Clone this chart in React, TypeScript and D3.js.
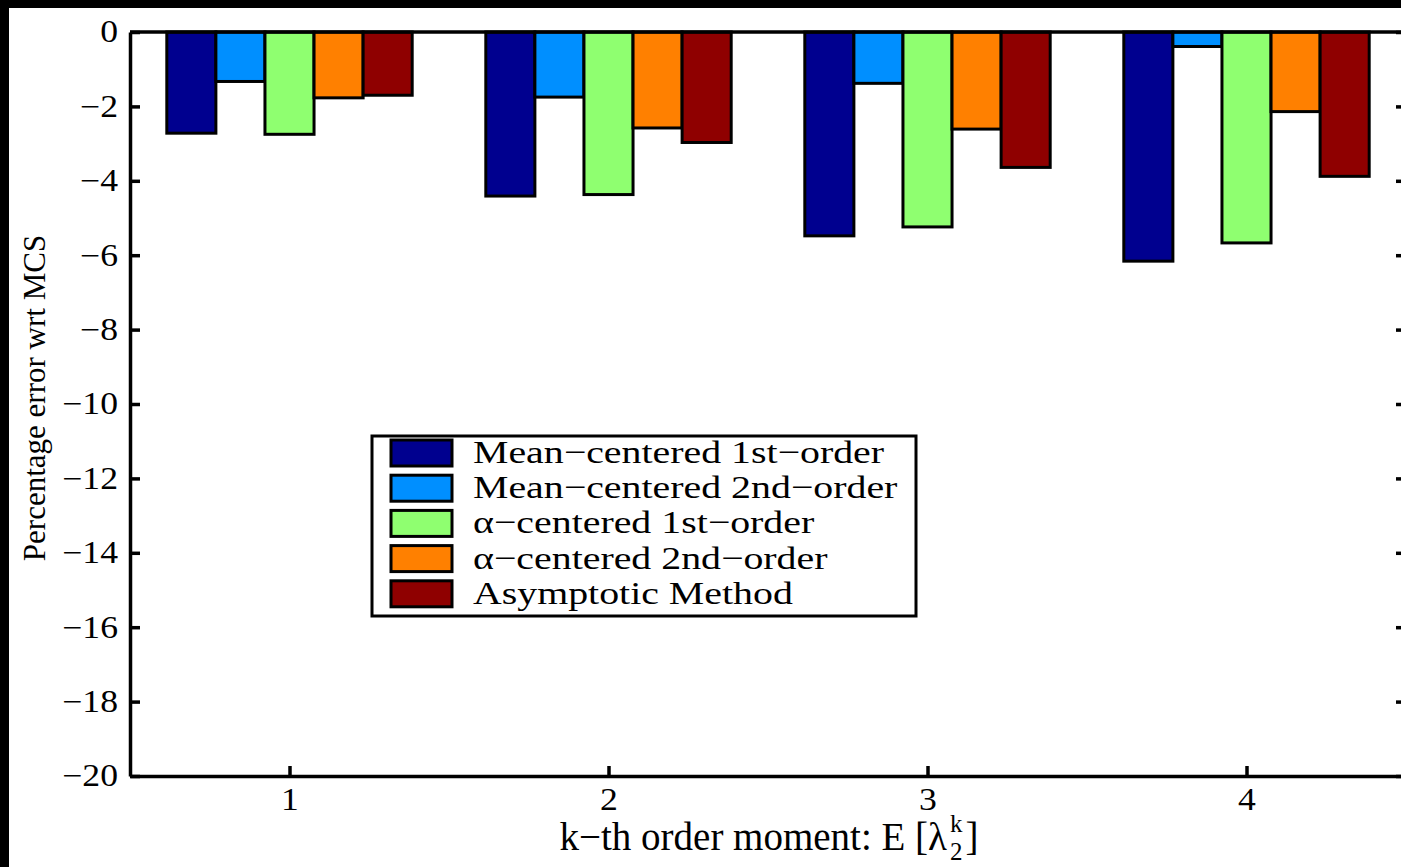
import { useEffect, useRef } from 'react';
import * as d3 from 'd3';

// data (percentage error wrt MCS)
const moments = [1, 2, 3, 4];
const seriesNames = [
  "Mean−centered 1st−order",
  "Mean−centered 2nd−order",
  "α−centered 1st−order",
  "α−centered 2nd−order",
  "Asymptotic Method"
];
const meanCentered1st = [-2.72, -4.41, -5.48, -6.16];
const meanCentered2nd = [-1.33, -1.75, -1.38, -0.39];
const alphaCentered1st = [-2.75, -4.37, -5.24, -5.67];
const alphaCentered2nd = [-1.77, -2.58, -2.61, -2.14];
const asymptotic = [-1.70, -2.97, -3.64, -3.88];
const yTicks = [0, -2, -4, -6, -8, -10, -12, -14, -16, -18, -20];
const colors = ["#00008F", "#008FFF", "#8FFF70", "#FF8000", "#8F0000"];

const FONT = "'Liberation Serif', 'Times New Roman', serif";

// the original figure was stretched sideways, so the glyphs are wider than tall
function stretchX(sel: any, k: number) {
  sel.each(function (this: any) {
    const len = this.getComputedTextLength();
    d3.select(this).attr("textLength", len * k).attr("lengthAdjust", "spacingAndGlyphs");
  });
}

const App = () => {
  const svgRef = useRef<SVGSVGElement>(null);

  useEffect(() => {
    const svg = d3.select(svgRef.current);
    svg.selectAll("*").remove();

    const width = 1401;
    const height = 867;

    // black frame on top/left, then white canvas
    svg.append("rect").attr("width", width).attr("height", height).attr("fill", "#000");
    svg.append("rect").attr("x", 9).attr("y", 8).attr("width", width - 9).attr("height", height - 8).attr("fill", "#fff");

    const x = d3.scaleLinear().domain([0.5, 4.5]).range([130, 1406]);
    const y = d3.scaleLinear().domain([-20, 0]).range([776, 32]);

    const series = [meanCentered1st, meanCentered2nd, alphaCentered1st, alphaCentered2nd, asymptotic];
    const groupWidth = Math.min(0.8, series.length / (series.length + 1.5));
    const barW = groupWidth / series.length;

    // bars
    const plotData: { m: number; s: number; v: number }[] = [];
    series.forEach((vals, s) => vals.forEach((v, i) => plotData.push({ m: moments[i], s, v })));

    svg.append("g")
      .selectAll("rect")
      .data(plotData)
      .join("rect")
      .attr("x", d => x(d.m + (d.s - (series.length - 1) / 2) * barW - barW / 2))
      .attr("width", x(barW) - x(0))
      .attr("y", y(0))
      .attr("height", d => y(d.v) - y(0))
      .attr("fill", d => colors[d.s])
      .attr("stroke", "#000")
      .attr("stroke-width", 3);

    // axes
    const fmt = (d: any) => (d === 0 ? "0" : "−" + Math.abs(d));

    const yAxis = svg.append("g")
      .attr("transform", `translate(${x(0.5)},0)`)
      .call(d3.axisLeft(y).tickValues(yTicks).tickSize(-10).tickSizeOuter(0).tickPadding(12).tickFormat(fmt));
    const xAxis = svg.append("g")
      .attr("transform", `translate(0,${y(-20)})`)
      .call(d3.axisBottom(x).tickValues(moments).tickSize(-10).tickSizeOuter(0).tickPadding(12).tickFormat(d3.format("d")));
    const rAxis = svg.append("g")
      .attr("transform", `translate(${x(4.5)},0)`)
      .call(d3.axisRight(y).tickValues(yTicks).tickSize(-10).tickSizeOuter(0).tickFormat(() => ""));

    [yAxis, xAxis, rAxis].forEach(g => {
      g.attr("font-family", FONT).attr("font-size", 31);
      g.select(".domain").attr("stroke-width", 3.5);
      g.selectAll(".tick line").attr("stroke-width", 3.5);
      g.selectAll("text").attr("fill", "#000");
    });
    stretchX(yAxis.selectAll(".tick text"), 1.15);
    stretchX(xAxis.selectAll(".tick text"), 1.15);

    svg.append("line")
      .attr("x1", x(0.5)).attr("x2", x(4.5))
      .attr("y1", y(0)).attr("y2", y(0))
      .attr("stroke", "#000").attr("stroke-width", 3.5);

    // axis labels
    svg.append("text")
      .attr("transform", "translate(45,398) rotate(-90)")
      .attr("text-anchor", "middle")
      .attr("font-family", FONT)
      .attr("font-size", 31)
      .text("Percentage error wrt MCS");

    const xl = svg.append("g").attr("font-family", FONT);
    const t1 = xl.append("text").attr("font-size", 39).text("k−th order moment: E [λ");
    const w1 = (t1.node() as any).getComputedTextLength();
    const sup = xl.append("text").attr("x", w1 + 3).attr("y", -18).attr("font-size", 25).text("k");
    const sub = xl.append("text").attr("x", w1 + 3).attr("y", 10).attr("font-size", 25).text("2");
    const w2 = Math.max((sup.node() as any).getComputedTextLength(), (sub.node() as any).getComputedTextLength());
    const t3 = xl.append("text").attr("x", w1 + w2 + 6).attr("font-size", 39).text("]");
    const total = w1 + w2 + 6 + (t3.node() as any).getComputedTextLength();
    xl.attr("transform", `translate(${769 - total / 2},850)`);

    // legend
    const legend = svg.append("g").attr("font-family", FONT);
    legend.append("rect")
      .attr("x", 372).attr("y", 436).attr("width", 544).attr("height", 180)
      .attr("fill", "#fff").attr("stroke", "#000").attr("stroke-width", 3);

    seriesNames.forEach((name, i) => {
      const cy = 453 + i * 35.2;
      legend.append("rect")
        .attr("x", 391).attr("y", cy - 13).attr("width", 61).attr("height", 26)
        .attr("fill", colors[i]).attr("stroke", "#000").attr("stroke-width", 3);
      const t = legend.append("text")
        .attr("x", 473).attr("y", cy + 10)
        .attr("font-size", 32)
        .text(name);
      stretchX(t, 1.245);
    });
  }, []);

  return (
    <div style={{ position: "fixed", left: 0, top: 0 }}>
      <svg ref={svgRef} width={1401} height={867} style={{ display: "block" }} />
    </div>
  );
};

export default App;
